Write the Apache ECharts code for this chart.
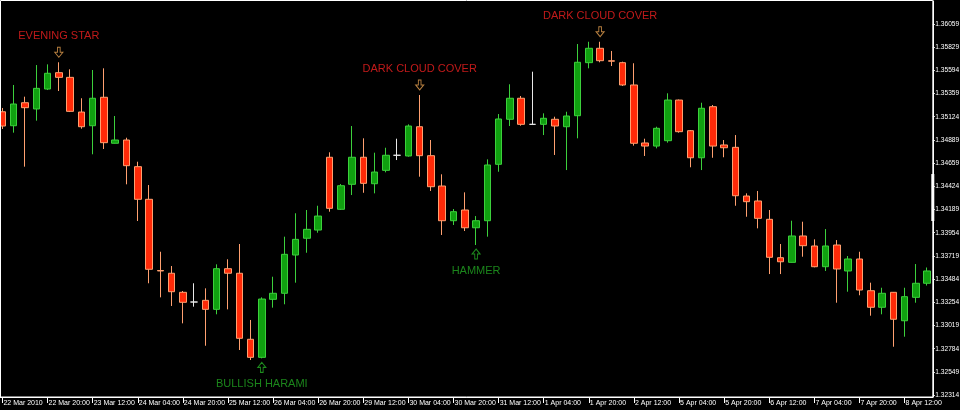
<!DOCTYPE html>
<html>
<head>
<meta charset="utf-8">
<script src="https://cdn.jsdelivr.net/npm/echarts@6/dist/echarts.min.js"></script>
<style>
html,body{margin:0;padding:0;background:#000;}
#chart{width:960px;height:410px;}
</style>
</head>
<body>
<div id="chart"></div>
<script>
const categories = [
'22 Mar 2010','22 Mar 08:00','22 Mar 12:00','22 Mar 16:00','22 Mar 20:00',
'23 Mar 00:00','23 Mar 04:00','23 Mar 08:00','23 Mar 12:00','23 Mar 16:00','23 Mar 20:00',
'24 Mar 00:00','24 Mar 04:00','24 Mar 08:00','24 Mar 12:00','24 Mar 16:00','24 Mar 20:00',
'25 Mar 00:00','25 Mar 04:00','25 Mar 08:00','25 Mar 12:00','25 Mar 16:00','25 Mar 20:00',
'26 Mar 00:00','26 Mar 04:00','26 Mar 08:00','26 Mar 12:00','26 Mar 16:00','26 Mar 20:00',
'29 Mar 00:00','29 Mar 04:00','29 Mar 08:00','29 Mar 12:00','29 Mar 16:00','29 Mar 20:00',
'30 Mar 00:00','30 Mar 04:00','30 Mar 08:00','30 Mar 12:00','30 Mar 16:00','30 Mar 20:00',
'31 Mar 00:00','31 Mar 04:00','31 Mar 08:00','31 Mar 12:00','31 Mar 16:00','31 Mar 20:00',
'1 Apr 00:00','1 Apr 04:00','1 Apr 08:00','1 Apr 12:00','1 Apr 16:00','1 Apr 20:00',
'2 Apr 00:00','2 Apr 04:00','2 Apr 08:00','2 Apr 12:00','2 Apr 16:00','2 Apr 20:00',
'5 Apr 00:00','5 Apr 04:00','5 Apr 08:00','5 Apr 12:00','5 Apr 16:00','5 Apr 20:00',
'6 Apr 00:00','6 Apr 04:00','6 Apr 08:00','6 Apr 12:00','6 Apr 16:00','6 Apr 20:00',
'7 Apr 00:00','7 Apr 04:00','7 Apr 08:00','7 Apr 12:00','7 Apr 16:00','7 Apr 20:00',
'8 Apr 00:00','8 Apr 04:00','8 Apr 08:00','8 Apr 12:00','8 Apr 16:00','8 Apr 20:00'
];

const openPrices = [
1.35174,1.35033,1.35265,1.35202,1.35403,1.35568,1.35521,1.35171,1.35033,1.35320,
1.34856,1.34889,1.34620,1.34291,1.33573,1.33545,1.33353,1.33255,1.33272,1.33181,
1.33591,1.33545,1.32879,1.32697,1.33282,1.33343,1.33729,1.33898,1.33981,1.34715,
1.34190,1.34442,1.34715,1.34448,1.34583,1.34735,1.34728,1.35023,1.34731,1.34425,
1.34075,1.34183,1.34004,1.34075,1.34644,1.35098,1.35310,1.35047,1.35047,1.35098,
1.35023,1.35134,1.35669,1.35814,1.35688,1.35669,1.35444,1.34859,1.34828,1.34882,
1.35292,1.34983,1.34710,1.35225,1.34839,1.34815,1.34324,1.34274,1.34089,1.33702,
1.33655,1.33921,1.33820,1.33611,1.33830,1.33568,1.33689,1.33369,1.33202,1.33353,
1.33066,1.33302,1.33444
];
const closePrices = [
1.35030,1.35252,1.35215,1.35410,1.35562,1.35521,1.35178,1.35023,1.35310,1.34862,
1.34889,1.34630,1.34291,1.33585,1.33568,1.33359,1.33252,1.33255,1.33181,1.33591,
1.33545,1.32889,1.32697,1.33285,1.33343,1.33736,1.33887,1.33988,1.34122,1.34200,
1.34428,1.34715,1.34452,1.34566,1.34735,1.34735,1.35030,1.34731,1.34418,1.34075,
1.34166,1.34004,1.34075,1.34637,1.35101,1.35310,1.35047,1.35047,1.35108,1.35030,
1.35131,1.35673,1.35814,1.35689,1.35684,1.35444,1.34856,1.34828,1.35007,1.35292,
1.34973,1.34710,1.35209,1.34828,1.34811,1.34327,1.34267,1.34099,1.33706,1.33661,
1.33921,1.33823,1.33611,1.33820,1.33588,1.33689,1.33376,1.33202,1.33343,1.33081,
1.33309,1.33444,1.33568
];
const lowPrices = [
1.35000,1.34963,1.34620,1.35084,1.35393,1.35383,1.35171,1.35003,1.34745,1.34798,
1.34854,1.34442,1.34072,1.33444,1.33302,1.33215,1.33040,1.33208,1.32814,1.33131,
1.33181,1.32771,1.32670,1.32687,1.33198,1.33232,1.33450,1.33752,1.33954,1.34166,
1.34183,1.34334,1.34357,1.34351,1.34563,1.34687,1.34721,1.34519,1.34375,1.33931,
1.34032,1.33971,1.33830,1.33914,1.34569,1.35030,1.35033,1.35040,1.34939,1.34738,
1.34586,1.34906,1.35612,1.35673,1.35635,1.35434,1.34832,1.34728,1.34805,1.34862,
1.34963,1.34614,1.34586,1.34710,1.34715,1.34226,1.34115,1.33998,1.33537,1.33537,
1.33653,1.33712,1.33605,1.33568,1.33248,1.33359,1.33323,1.33117,1.33131,1.32804,
1.32905,1.33248,1.33421
];
const highPrices = [
1.35212,1.35444,1.35326,1.35645,1.35652,1.35673,1.35602,1.35310,1.35595,1.35612,
1.35131,1.34912,1.34670,1.34435,1.33762,1.33618,1.33366,1.33444,1.33393,1.33635,
1.33686,1.33840,1.33074,1.33302,1.33510,1.33914,1.34150,1.34183,1.34226,1.34765,
1.34445,1.35030,1.34906,1.34761,1.34811,1.34902,1.35047,1.35343,1.34889,1.34543,
1.34193,1.34361,1.34122,1.34694,1.35151,1.35451,1.35333,1.35578,1.35158,1.35124,
1.35174,1.35857,1.35880,1.35880,1.35787,1.35679,1.35663,1.34902,1.35023,1.35360,
1.35297,1.34990,1.35265,1.35242,1.34889,1.34939,1.34351,1.34375,1.34183,1.33840,
1.34075,1.34065,1.33887,1.33991,1.33880,1.33719,1.33762,1.33450,1.33399,1.33356,
1.33399,1.33638,1.33603
];

const yTickValues = [1.36059,1.35829,1.35594,1.35359,1.35124,1.34889,1.34659,1.34424,
  1.34189,1.33954,1.33719,1.33484,1.33254,1.33019,1.32784,1.32549,1.32314];

const patternNames = ['EVENING STAR','DARK CLOUD COVER','DARK CLOUD COVER','BULLISH HARAMI','HAMMER'];
const patternIndex = [5, 37, 53, 23, 42];
const patternSide  = ['bear','bear','bear','bull','bull'];

const priceMarkerRange = [1.34546, 1.34072];

// ---- build ----
const candleData = categories.map((c, i) => {
  const item = { value: [openPrices[i], closePrices[i], lowPrices[i], highPrices[i]] };
  if (openPrices[i] === closePrices[i]) {
    item.itemStyle = { borderColor: '#e8e8e8', borderColor0: '#e8e8e8', color: '#e8e8e8', color0: '#e8e8e8' };
  }
  return item;
});

const BEAR_TEXT = '#f02020', BULL_TEXT = '#22a622';
const BEAR_ARROW = '#e6a050', BULL_ARROW = '#26b026';
const downArrow = 'path://M3,0L6,0L6,5L9,5L4.5,10L0,5L3,5Z';
const upArrow = 'path://M4.5,0L9,5L6,5L6,10L3,10L3,5L0,5Z';

const arrowData = patternIndex.map((idx, k) => {
  const bear = patternSide[k] === 'bear';
  return {
    value: [idx, bear ? highPrices[idx] : lowPrices[idx]],
    symbol: bear ? downArrow : upArrow,
    symbolOffset: [0, bear ? -10 : 9],
    itemStyle: { color: 'rgba(0,0,0,0)', borderColor: bear ? BEAR_ARROW : BULL_ARROW, borderWidth: 1 }
  };
});
const textData = patternIndex.map((idx, k) => {
  const bear = patternSide[k] === 'bear';
  return {
    value: [idx, bear ? highPrices[idx] : lowPrices[idx]],
    label: { offset: [0, bear ? -26 : 26], color: bear ? BEAR_TEXT : BULL_TEXT },
    name: patternNames[k]
  };
});

const chart = echarts.init(document.getElementById('chart'), null, { renderer: 'canvas' });
chart.setOption({
  backgroundColor: '#000',
  animation: false,
  grid: { left: -3.2, right: 27.2, top: 1, bottom: 13, containLabel: false, outerBoundsMode: 'none' },
  xAxis: {
    type: 'category',
    data: categories,
    boundaryGap: true,
    axisLine: { lineStyle: { color: '#ffffff', width: 1 } },
    axisTick: { show: true, interval: 3, alignWithLabel: true, length: 6, lineStyle: { color: '#ffffff' } },
    axisLabel: { interval: 3, align: 'left', color: '#ffffff', fontSize: 7, fontFamily: 'Liberation Sans', margin: 3, padding: [0, 0, 0, 1] },
    splitLine: { show: false }
  },
  yAxis: {
    type: 'value',
    position: 'right',
    min: 1.32297,
    max: 1.36291,
    scale: true,
    axisLine: { show: true, lineStyle: { color: '#ffffff', width: 1 } },
    axisTick: { show: true, length: 2, customValues: yTickValues, lineStyle: { color: '#ffffff' } },
    axisLabel: { color: '#ffffff', fontSize: 6.6, fontFamily: 'Liberation Sans', margin: 2.5, customValues: yTickValues,
      formatter: v => v.toFixed(5) },
    splitLine: { show: false }
  },
  graphic: [{
    type: 'rect', silent: true, z: 100,
    shape: { x: 0.5, y: 0.5, width: 932.3, height: 396.5 },
    style: { fill: 'none', stroke: '#ffffff', lineWidth: 1 }
  }],
  series: [
    {
      type: 'candlestick',
      data: candleData,
      barWidth: 7,
      itemStyle: {
        color: '#10a010', color0: '#ff2a08',
        borderColor: '#3cd03c', borderColor0: '#ffa070',
        borderColorDoji: '#e8e8e8', borderWidth: 1
      }
    },
    {
      type: 'scatter',
      data: arrowData,
      symbolSize: [8, 10],
      z: 5
    },
    {
      type: 'scatter',
      data: textData,
      symbolSize: 1,
      itemStyle: { color: 'rgba(0,0,0,0)' },
      label: { show: true, position: 'inside', fontSize: 11, fontFamily: 'Liberation Sans', formatter: p => p.name },
      z: 5
    },
    {
      type: 'custom',
      clip: false,
      z: 200,
      zlevel: 1,
      data: [[0, priceMarkerRange[0], priceMarkerRange[1]]],
      encode: { x: 0, y: [1, 2] },
      renderItem: (params, api) => {
        const top = api.coord([0, api.value(1)]);
        const bot = api.coord([0, api.value(2)]);
        const cs = params.coordSys;
        return { type: 'rect', shape: { x: cs.x + cs.width - 1.5, y: top[1], width: 3, height: bot[1] - top[1] }, style: { fill: '#ffffff' } };
      }
    }
  ]
});
</script>
</body>
</html>
